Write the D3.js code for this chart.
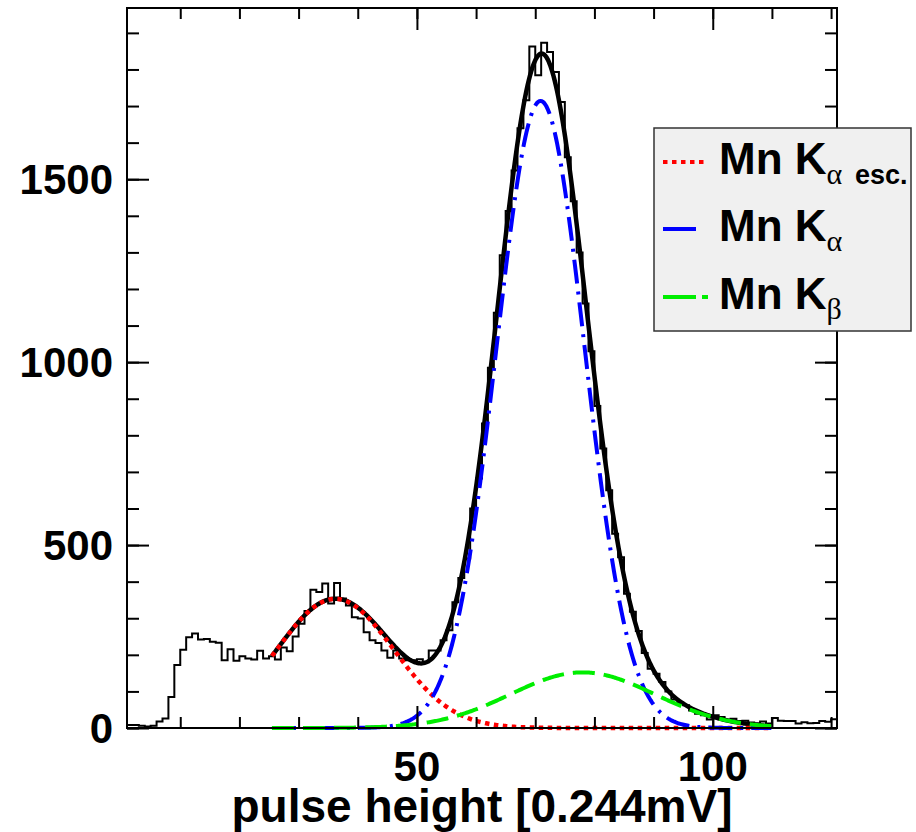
<!DOCTYPE html>
<html>
<head>
<meta charset="utf-8">
<script src="https://cdnjs.cloudflare.com/ajax/libs/d3/7.8.5/d3.min.js"></script>
<style>
body { margin: 0; background: #fff; }
svg text { font-family: "Liberation Sans", Arial, Helvetica, sans-serif; font-weight: bold; fill: #000; }
</style>
</head>
<body>
<svg width="916" height="832"></svg>
<script>
// histogram, bin i covers [firstBin + i, firstBin + i + 1]
var firstBin = 1;
var counts = [
    8, 8, 6, 4, 6, 18, 26, 85, 172, 214,
    248, 258, 242, 243, 236, 233, 185, 215, 184, 196,
    190, 187, 211, 190, 196, 187, 220, 210, 250, 285,
    320, 378, 372, 395, 340, 396, 354, 335, 303, 299,
    262, 240, 232, 212, 192, 212, 190, 185, 185, 188,
    180, 212, 212, 240, 267, 344, 410, 463, 600, 682,
    832, 985, 1135, 1292, 1413, 1524, 1639, 1716, 1863, 1784,
    1873, 1848, 1793, 1711, 1560, 1440, 1300, 1160, 1030, 880,
    764, 650, 531, 467, 367, 318, 265, 205, 162, 148,
    126, 100, 78, 70, 62, 48, 39, 35, 23, 35,
    30, 21, 25, 19, 20, 15, 13, 18, 12, 27,
    20, 19, 19, 12, 16, 13, 14, 19, 17, 24
];

// gaussian fit components (esc, K alpha, K beta)
var fitAmp = [353, 1714, 152];
var fitMean = [36.2, 70.9, 78.0];
var fitSigma = [9.9, 7.45, 12.2];
var fitRange = [25.5, 110];

var xMinorTicks = [10, 20, 30, 40, 50, 60, 70, 80, 90, 100, 110, 120];
var xMajorTicks = [50, 100];
var yMinorTicks = d3.range(0, 2000, 100);
var yMajorTicks = [0, 500, 1000, 1500];

var svg = d3.select("svg");

var x = d3.scaleLinear().domain([1, 121]).range([127, 837]);
var y = d3.scaleLinear().domain([0, 1968]).range([728, 8]);

function gauss(k, v) {
    return fitAmp[k] * Math.exp(-Math.pow(v - fitMean[k], 2) / (2 * fitSigma[k] * fitSigma[k]));
}

// histogram outline
var histPts = [];
counts.forEach(function(c, i) {
    histPts.push([firstBin + i, c]);
    histPts.push([firstBin + i + 1, c]);
});
var line = d3.line()
    .x(function(d) { return x(d[0]); })
    .y(function(d) { return y(d[1]); });

svg.append("path")
    .attr("d", line(histPts))
    .attr("fill", "none")
    .attr("stroke", "#000")
    .attr("stroke-width", 2);

// fit curves
var xs = d3.range(fitRange[0], fitRange[1] + 0.001, 0.2);
function curve(fn) {
    return line(xs.map(function(v) { return [v, fn(v)]; }));
}

svg.append("path")
    .attr("d", curve(function(v) { return gauss(0, v) + gauss(1, v) + gauss(2, v); }))
    .attr("fill", "none").attr("stroke", "#000").attr("stroke-width", 4.5);

svg.append("path")
    .attr("d", curve(function(v) { return gauss(0, v); }))
    .attr("fill", "none").attr("stroke", "#ff0000").attr("stroke-width", 4.5)
    .attr("stroke-dasharray", "4.5,4.5");

svg.append("path")
    .attr("d", curve(function(v) { return gauss(1, v); }))
    .attr("fill", "none").attr("stroke", "#0000ff").attr("stroke-width", 4)
    .attr("stroke-dasharray", "24,8,3,8");

svg.append("path")
    .attr("d", curve(function(v) { return gauss(2, v); }))
    .attr("fill", "none").attr("stroke", "#00ee00").attr("stroke-width", 4)
    .attr("stroke-dasharray", "22,9");

// frame
svg.append("rect")
    .attr("x", 127).attr("y", 8)
    .attr("width", 710).attr("height", 720)
    .attr("fill", "none").attr("stroke", "#000").attr("stroke-width", 2);

// ticks, inside the frame on all four sides
function ticks(axis, tr, vals, len) {
    var g = svg.append("g")
        .attr("transform", tr)
        .call(axis.tickValues(vals).tickSize(-len).tickFormat(""));
    g.select(".domain").remove();
    g.selectAll("line").attr("stroke", "#000").attr("stroke-width", 2);
}
ticks(d3.axisBottom(x), "translate(0,728)", xMinorTicks, 11);
ticks(d3.axisBottom(x), "translate(0,728)", xMajorTicks, 22);
ticks(d3.axisTop(x), "translate(0,8)", xMinorTicks, 11);
ticks(d3.axisTop(x), "translate(0,8)", xMajorTicks, 22);
ticks(d3.axisLeft(y), "translate(127,0)", yMinorTicks, 12);
ticks(d3.axisLeft(y), "translate(127,0)", yMajorTicks, 22);
ticks(d3.axisRight(y), "translate(837,0)", yMinorTicks, 12);
ticks(d3.axisRight(y), "translate(837,0)", yMajorTicks, 22);

// tick labels
svg.selectAll(".ylab").data(yMajorTicks).enter().append("text")
    .attr("x", 113)
    .attr("y", function(d) { return y(d) + 15; })
    .attr("text-anchor", "end")
    .style("font-size", "42px")
    .text(function(d) { return d; });

svg.selectAll(".xlab").data(xMajorTicks).enter().append("text")
    .attr("x", function(d) { return x(d); })
    .attr("y", 781)
    .attr("text-anchor", "middle")
    .style("font-size", "42px")
    .text(function(d) { return d; });

svg.append("text")
    .attr("x", 482).attr("y", 822)
    .attr("text-anchor", "middle")
    .style("font-size", "46px")
    .text("pulse height [0.244mV]");

// legend
svg.append("rect")
    .attr("x", 654).attr("y", 128)
    .attr("width", 257).attr("height", 203)
    .attr("fill", "#f0f0f0").attr("stroke", "#333").attr("stroke-width", 1.5);

var legY = [162, 229, 297];
var legSub = ["\u03b1", "\u03b1", "\u03b2"];

svg.append("line").attr("x1", 663).attr("x2", 707).attr("y1", legY[0]).attr("y2", legY[0])
    .attr("stroke", "#ff0000").attr("stroke-width", 4).attr("stroke-dasharray", "4.5,4.5");
svg.append("line").attr("x1", 663).attr("x2", 696).attr("y1", legY[1]).attr("y2", legY[1])
    .attr("stroke", "#0000ff").attr("stroke-width", 4);
svg.append("line").attr("x1", 663).attr("x2", 708).attr("y1", legY[2]).attr("y2", legY[2])
    .attr("stroke", "#00ee00").attr("stroke-width", 4).attr("stroke-dasharray", "33,6,6,20");

legY.forEach(function(ly, i) {
    var t = svg.append("text")
        .attr("x", 719).attr("y", ly + 12)
        .style("font-size", "44px")
        .text("Mn K");
    t.append("tspan")
        .attr("dy", 10)
        .style("font-family", "'Liberation Serif', 'Times New Roman', serif")
        .style("font-weight", "normal")
        .style("font-size", "30px")
        .text(legSub[i]);
    if (i == 0) {
        t.append("tspan")
            .attr("x", 855)
            .style("font-size", "27px")
            .text("esc.");
    }
});
</script>
</body>
</html>
